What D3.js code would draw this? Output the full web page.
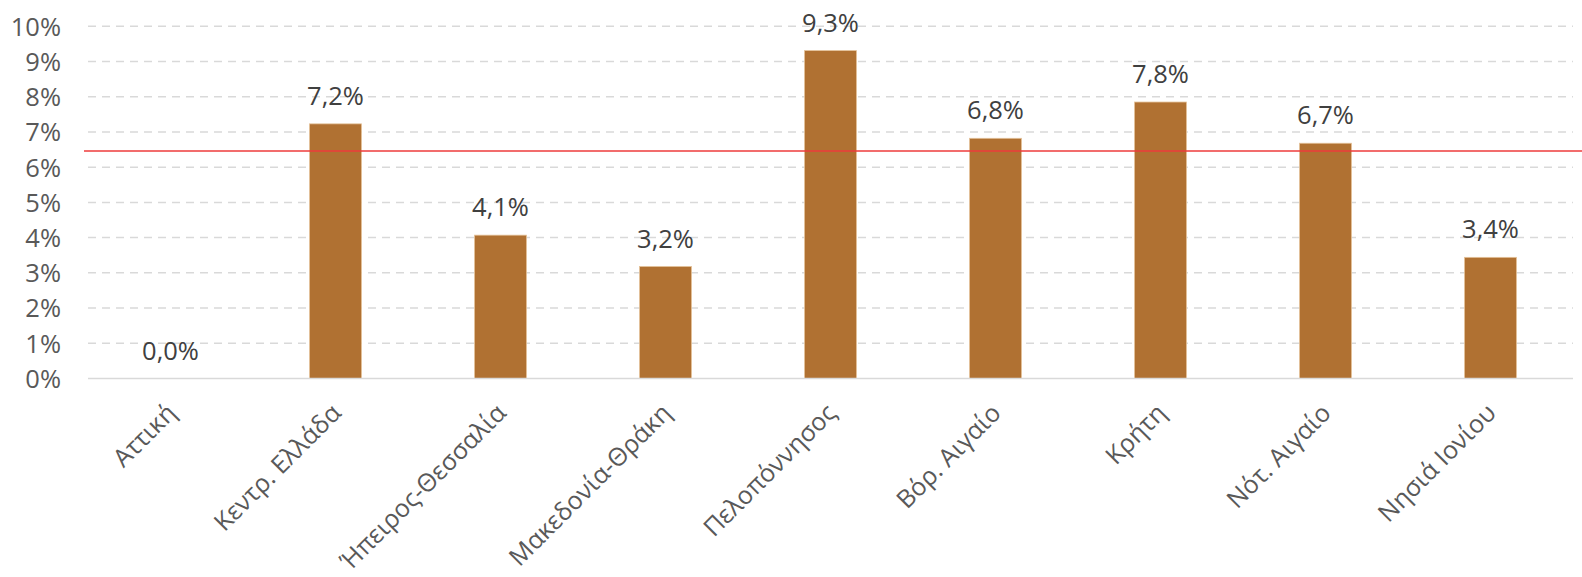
<!DOCTYPE html>
<html>
<head>
<meta charset="utf-8">
<script src="https://cdn.jsdelivr.net/npm/d3@7/dist/d3.min.js"></script>
<style>
  html, body { margin: 0; padding: 0; background: #ffffff; }
  svg { display: block; font-family: "Open Sans", "Noto Sans", sans-serif; }
</style>
</head>
<body>
<svg id="chart" width="1582" height="577"></svg>
<script>
const categories = ["Αττική", "Κεντρ. Ελλάδα", "Ήπειρος-Θεσσαλία", "Μακεδονία-Θράκη", "Πελοπόννησος", "Βόρ. Αιγαίο", "Κρήτη", "Νότ. Αιγαίο", "Νησιά Ιονίου"];
const values = [0.000, 0.0723, 0.0407, 0.0318, 0.0931, 0.0682, 0.0785, 0.0668, 0.0344];
const valueLabels = ["0,0%", "7,2%", "4,1%", "3,2%", "9,3%", "6,8%", "7,8%", "6,7%", "3,4%"];
const referenceValue = 0.0646;
const yTicks = [0, 0.01, 0.02, 0.03, 0.04, 0.05, 0.06, 0.07, 0.08, 0.09, 0.10];
const yTickLabels = ["0%", "1%", "2%", "3%", "4%", "5%", "6%", "7%", "8%", "9%", "10%"];

const svg = d3.select("#chart");
const W = 1582, H = 577;
const plot = { left: 88, right: 1573, top: 26.3, bottom: 378.5 };

const x = d3.scaleBand().domain(categories).range([plot.left, plot.right]).paddingInner(0.685).paddingOuter(0.3425);
const y = d3.scaleLinear().domain([0, 0.10]).range([plot.bottom, plot.top]);

// gridlines
svg.append("g").selectAll("line").data(yTicks.filter(t => t > 0)).join("line")
  .attr("x1", plot.left).attr("x2", plot.right)
  .attr("y1", d => y(d)).attr("y2", d => y(d))
  .attr("stroke", "#d9d9d9").attr("stroke-width", 1.5)
  .attr("stroke-dasharray", "8,6");

// y axis labels
const yAxis = d3.axisLeft(y).tickValues(yTicks).tickFormat((d, i) => yTickLabels[i]).tickSize(0).tickPadding(0);
const yg = svg.append("g").attr("transform", `translate(61,0)`).call(yAxis);
yg.select(".domain").remove();
yg.selectAll("text").attr("fill", "#595959").attr("font-size", 25.5).attr("font-family", "Open Sans").attr("dy", "0.35em");

// bars
svg.append("g").selectAll("rect").data(values).join("rect")
  .attr("x", (d, i) => x(categories[i]))
  .attr("width", x.bandwidth())
  .attr("y", d => y(d))
  .attr("height", d => y(0) - y(d))
  .attr("fill", "#b07132")
  .attr("stroke", "#e4c29a").attr("stroke-width", d => d > 0 ? 0.8 : 0);

// baseline axis
svg.append("line").attr("x1", plot.left).attr("x2", plot.right)
  .attr("y1", y(0)).attr("y2", y(0))
  .attr("stroke", "#d9d9d9").attr("stroke-width", 1.5);

// reference line
svg.append("line").attr("x1", 84).attr("x2", W)
  .attr("y1", y(referenceValue)).attr("y2", y(referenceValue))
  .attr("stroke", "#ee3b3b").attr("stroke-width", 1.3);

// data labels
svg.append("g").selectAll("text").data(values).join("text")
  .attr("x", (d, i) => x(categories[i]) + x.bandwidth() / 2)
  .attr("y", d => y(d) - 19)
  .attr("text-anchor", "middle")
  .attr("fill", "#404040").attr("font-size", 25.5)
  .text((d, i) => valueLabels[i]);

// x axis labels
const xAxis = d3.axisBottom(x).tickSize(0).tickPadding(0);
const xg = svg.append("g").attr("transform", `translate(0,${plot.bottom})`).call(xAxis);
xg.select(".domain").remove();
xg.selectAll("text")
  .attr("fill", "#595959").attr("font-size", 25).attr("font-family", "Open Sans")
  .attr("text-anchor", "end")
  .attr("dy", null).attr("y", null)
  .attr("transform", "translate(7,36) rotate(-45)");
</script>
</body>
</html>
